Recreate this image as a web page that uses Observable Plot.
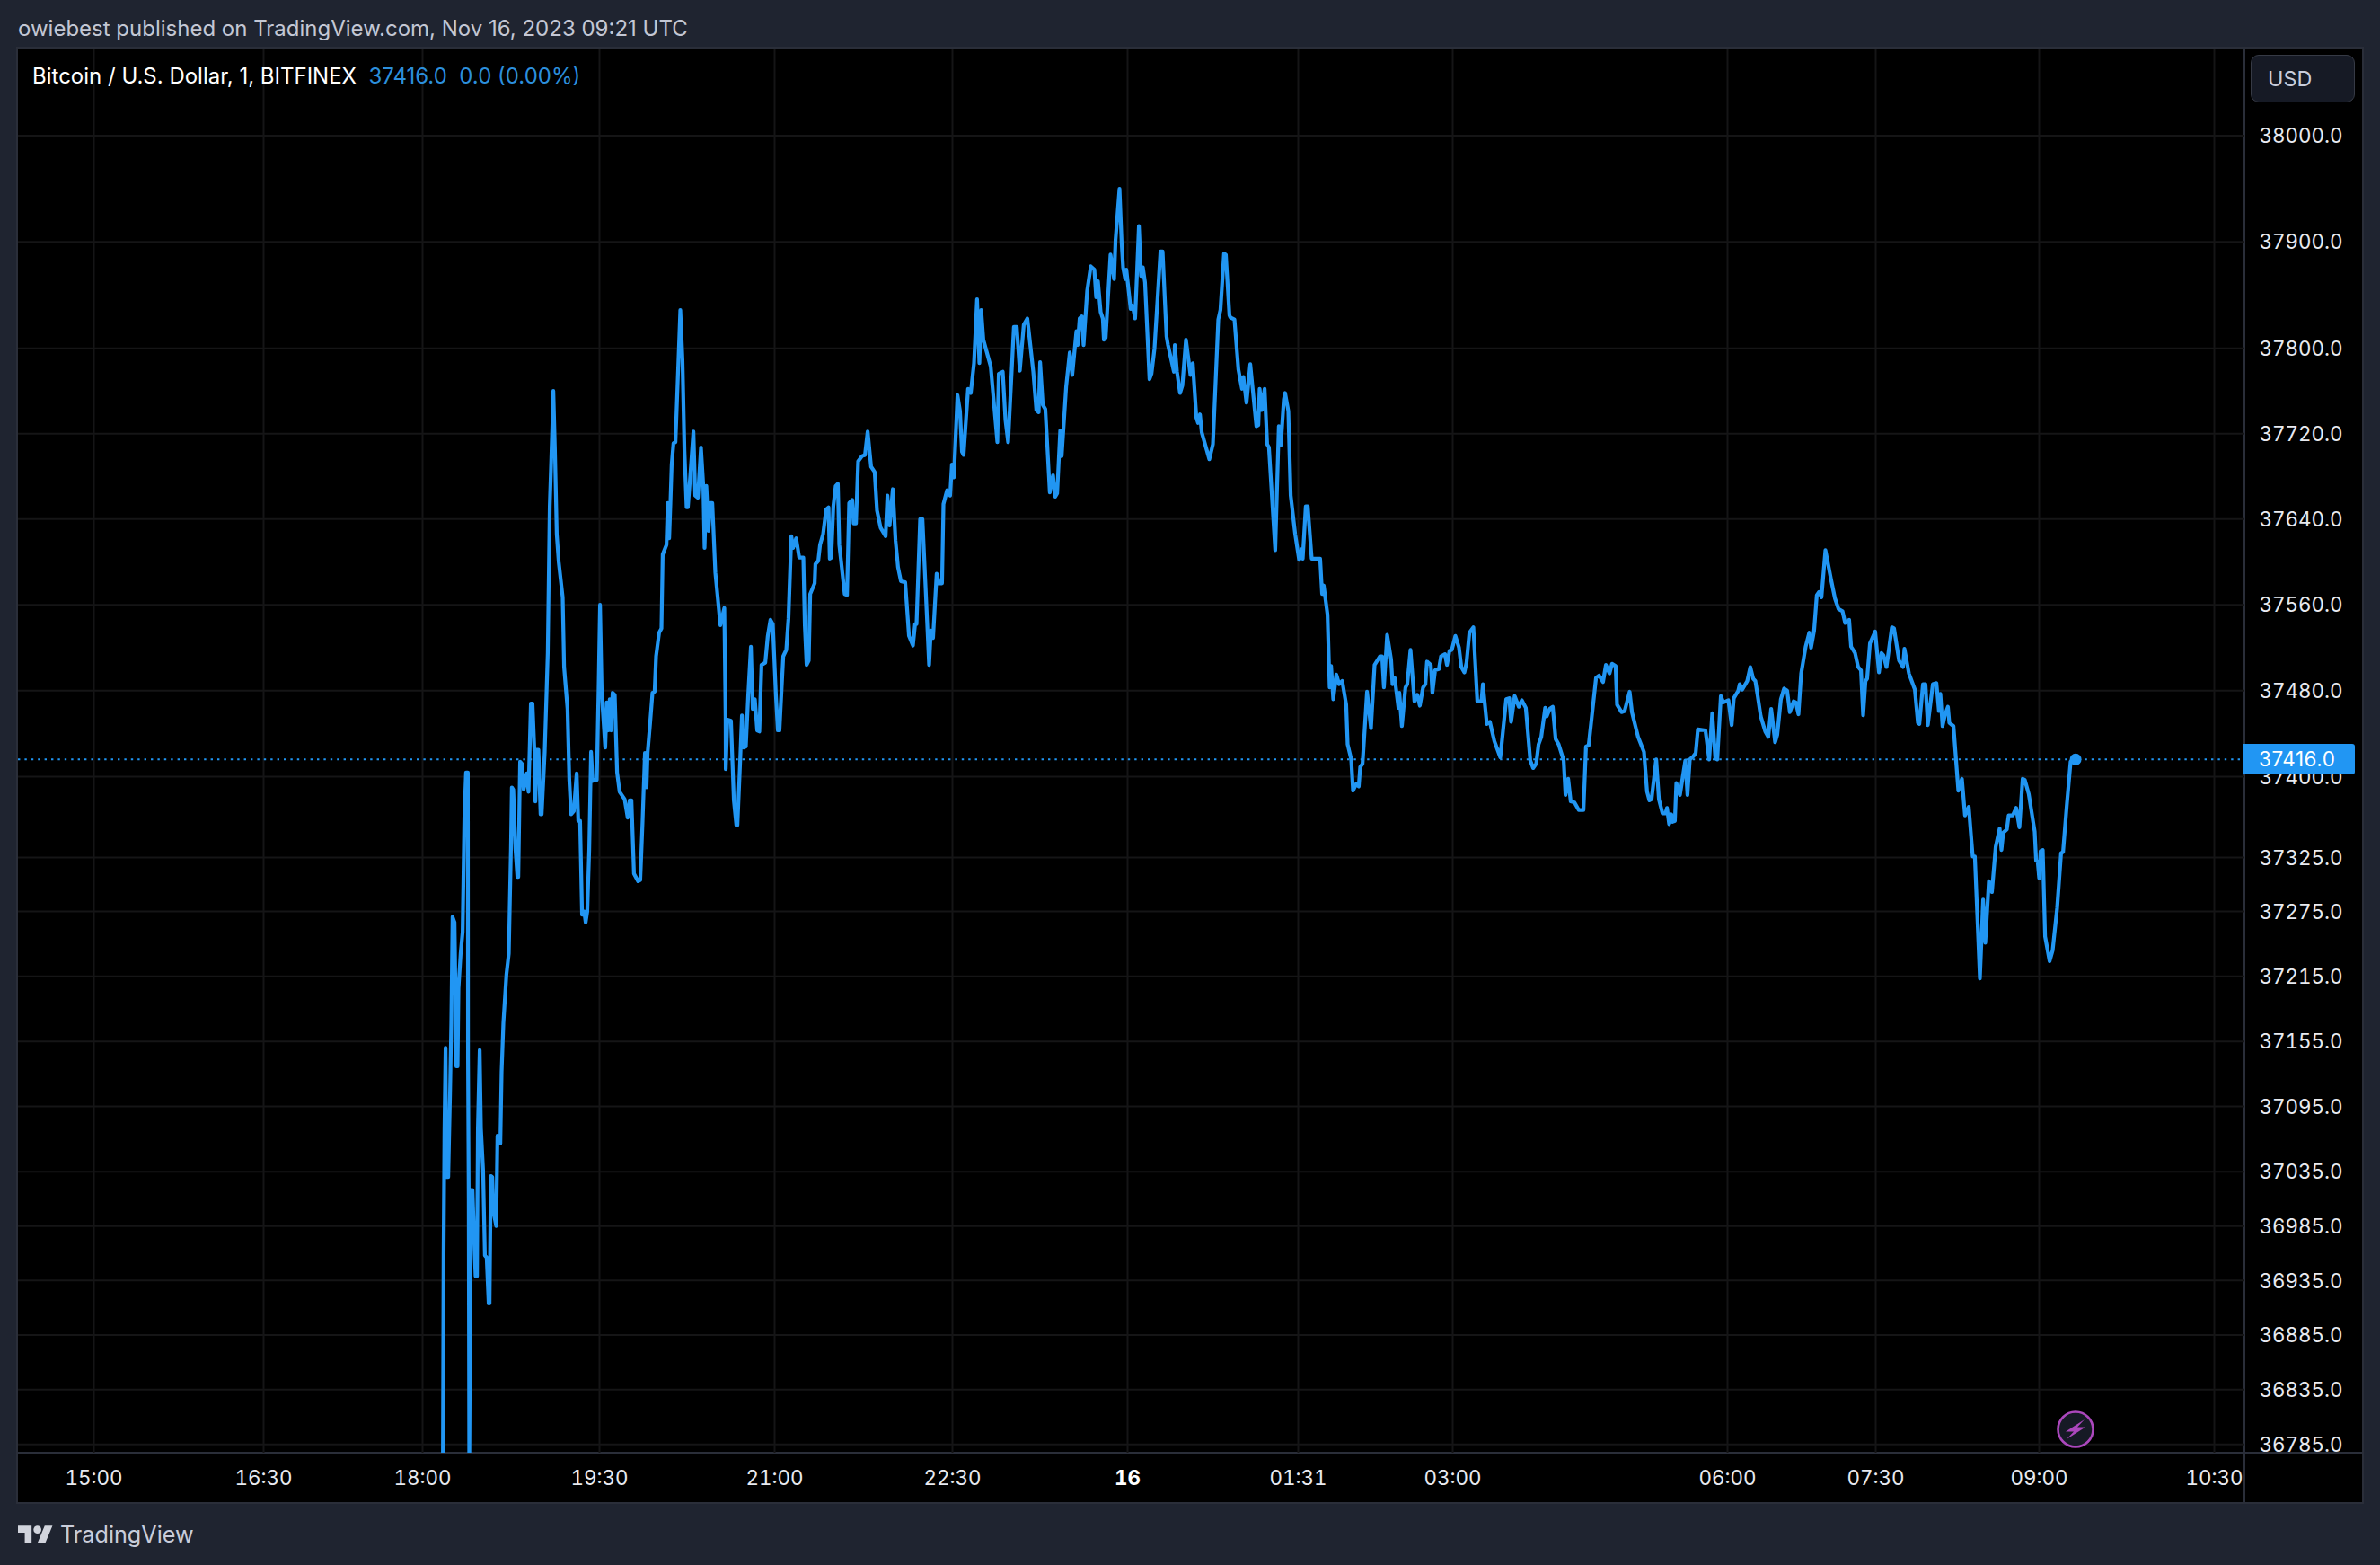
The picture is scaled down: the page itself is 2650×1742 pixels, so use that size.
<!DOCTYPE html>
<html>
<head>
<meta charset="utf-8">
<script src="https://cdn.jsdelivr.net/npm/d3@7"></script>
<script src="https://cdn.jsdelivr.net/npm/@observablehq/plot@0.6"></script>
<style>
  html, body { margin: 0; padding: 0; background: #1f2430; }
  body { width: 2650px; height: 1742px; position: relative; overflow: hidden; font-family: Inter, "Noto Sans", sans-serif; }
  .abs { position: absolute; white-space: pre; }
  #title { left: 20px; top: 17px; font-size: 24px; line-height: 30px; color: #c3c7d4; }
  #pane { left: 20px; top: 54px; width: 2610px; height: 1618px; background: #000; box-shadow: 0 0 0 2px #2a2e39; }
  #vsep { left: 2498px; top: 54px; width: 2px; height: 1618px; background: #2a2e39; }
  #hsep { left: 20px; top: 1616px; width: 2610px; height: 2px; background: #2a2e39; }
  #chart { left: 0; top: 54px; }
  #legend { left: 36px; top: 70px; font-size: 24px; line-height: 30px; color: #fff; }
  #legend span { color: #2c8fdc; }
  #usd { left: 2506px; top: 61px; width: 114px; height: 51px; background: #161a25; border: 1px solid #363a45; border-radius: 9px; color: #c9cddb; font-size: 23.4px; line-height: 51px; text-indent: 18px; }
  #last { left: 2498px; top: 828px; width: 124px; height: 34px; background: #2196f3; border-radius: 0 3px 3px 0; color: #fff; font-size: 22.4px; line-height: 34px; text-indent: 17px; letter-spacing: .55px; }
  #brand { left: 67px; top: 1692px; font-size: 25.2px; line-height: 32px; color: #c9cddb; }
  #logo { left: 20px; top: 1696px; }
  #bolt { left: 2288px; top: 1568px; }
</style>
</head>
<body>
<div class="abs" id="title">owiebest published on TradingView.com, Nov 16, 2023 09:21 UTC</div>
<div class="abs" id="pane"></div>
<div class="abs" id="vsep"></div>
<div class="abs" id="hsep"></div>
<div class="abs" id="chart"></div>
<div class="abs" id="legend">Bitcoin / U.S. Dollar, 1, BITFINEX  <span>37416.0  0.0 (0.00%)</span></div>
<div class="abs" id="usd">USD</div>
<div class="abs" id="last">37416.0</div>
<svg class="abs" id="bolt" width="46" height="46" viewBox="0 0 46 46"><circle cx="23" cy="23" r="19.5" fill="#161a25" stroke="#ab47bc" stroke-width="2.6"/><path d="M33 12 L12 25.5 L21 25.5 L13 34 L34 20.5 L25 20.5 Z" fill="#ab47bc"/></svg>
<svg class="abs" id="logo" width="39" height="22" viewBox="0 0 36 20"><path d="M14 20H7V9H0V2h14v18zM28 20h-8l7.5-18h8L28 20z" fill="#d1d4dc"/><circle cx="20" cy="6" r="4" fill="#d1d4dc"/></svg>
<div class="abs" id="brand">TradingView</div>
<script>
// Bar position on the index axis (bars are counted from the 15:00 tick, sessions with missing bars compress time)
const bars = [
194.3,194.7,195.2,195.8,196.2,197.3,198.3,199,199.7,200.8,
201.3,201.8,202.5,203,204.2,205.3,206.3,207.2,208.2,208.3,
208.7,209,209.8,210.8,212,212.5,213.3,213.8,214.8,215.5,
216.7,217.7,218.7,219.8,220.3,221,221.8,222.5,224,224.7,
226.3,227,228,229.7,231,232.2,232.7,233.5,234.7,235.8,
236.3,237.3,238.3,239.3,241,242,243.3,244.2,245.3,245.8,
246.5,247.5,248.7,249.3,251,252.7,253.8,255.2,255.8,256.7,
257.7,258.8,261,261.8,263.7,264.7,265.7,267.2,268.8,269.7,
270.7,271.8,273,273.8,274.7,275.8,276.8,277.7,280,281,
281.8,282.7,283.3,284.7,285.5,286.3,287.2,288,288.8,290,
291.3,292.7,295.5,297.2,298.3,299.3,300.7,303,304.2,305.5,
306.8,307.7,308.3,309.7,311,312.2,313,314.7,316,316.7,
318.8,319.5,320.3,321,321.7,322.7,323.8,326.5,327.7,328.8,
330,330.7,332.2,333.8,334.8,336.3,338,339.3,340,341,
342.2,343,344.3,346,348.8,351,351.7,351.8,352.7,354.7,
356.3,357.7,358.3,359.7,360.8,361.7,363,364.3,365.8,366.8,
368,369.3,370.5,371.7,373.8,375.2,376.7,378,379.7,380.8,
381.7,383.8,385.5,386.7,388.3,389.3,391,392.7,395,395.8,
396.8,398,398.8,401.3,401.7,403.3,404.3,406,407.7,409,
409.7,410.5,411.7,413,414.2,415,418,419.3,420.5,422.2,
423,424.3,425.5,427.7,429.3,430.8,432.7,434.7,436,438,
440.8,441.8,443,444.8,446.3,447.7,449.3,451.7,453.8,456,
457.2,458,460,461.3,465,466,467.2,469.2,470.5,472.2,
473,475,476.7,477.7,478.8,480.8,482.2,483.3,484.2,486.7,
488.2,490,491.7,493,494,495.2,499.3,503,503.8,506,
507.5,509,512.2,513.8,515.5,517.7,519.7,523,524.7,526,
526.8,528.3,529.7,532.2,534,535.2,536.3,538,538.8,541.3,
543.3,544.7,547,547.7,548.8,550,551,553,555,557,
558,559,560.5,561.7,562.3,563.3,566,568,568.8,571,
572.2,573,574.2,574.8,577.2,578.3,579.7,581.8,583,584,
585.2,587.7,588.8,590.5,593.8,595,597.2,598,601.3,601.8,
603,604.7,606,608,610.5,611.8,613.8,614.7,615.8,616.8,
621,623,626,627.2,629.2,630.2,632.2,632.7,635,637.2,
639.2,640,641.7,643.8,647.2,648.3,649,650.2,651.8,653.2,
654.2,657.7,659.7,660.8,662.5,663.2,665,666.3,668.8,671,
672.5,673,674.7,675.8,678,682.7,683.8,684.7,686.8,688,
688.8,690,691.7,693.3,695,697.2,698,700,701,702.7,
704.2,705,706.3,708.8,711,713,716,717.2,718.2,720,
722.2,723,724.2,726.3,726.8,728.2,730.2,731.2,733,735.2,
736.8,738.2,740,741.3,742.2,744.3,745.2,746.7,748.8,750,
752.2,753.3,754.7,756,758,760,761.3,763,764.2,765.8,
768,770.2,772.5,773.3,775.5,777.2,779.7,783,786.3,788,
789,791,793.3,795,797.2,799.7,801.3,803,804.3,805.8,
808,808.8,810.5,812.2,813.8,815.5,818.3,819.3,820.8,822.2,
824.3,826.7,829.3,830.7,832.2,836.3,838,840.2,841.8,843.8,
845.2,847.2,848,850.5,852.2,855,856.3,859.7,863,864.7,
866,867.2,869.8,871.3,873.3,875,875.8,877,878.2,878.8,
880.2,881,883,886,887.2,888.5,890.5,891.8,893,897.2,
899.3,901,902.7,903.8,905.8,907.2,910,911.8,913,915.5,
916.3,917.7,920.5,922.2,923.8,925,926.3,928,930.5,932.2,
933.8,936,937.2,939.2,941,942.7,944.2,946.3,947.5,949,
950.5,953,955,956,957.7,959.2,960.5,961.8,964,967.2,
969.3,971.3,973.5,975,977.2,978.3,980.5,982.2,983.8,985,
986.3,987.2,988.8,991.7,993.8,995.2,996.3,998,1001,1002.2,
1005,1007.2,1008,1010.5,1013.8,1015.5,1016.3,1018.3,1019.7,1021,
1023.8,1025.8,1027.2,1028,1029.2,1030.5,1032.2,1033,1035.3,1038,
1040,1041.7,1043.8,1046,1047.2,1050,1051.8,1053,1055,1056.7,
1058.8,1061,1062,1063,1065,1066,1068.3,1070.2,1072,1073.8,
1075,1077.2,1080.5,1081.3,1082.2,1083,1083.8,1085,1086.3,1088.8,
1090.5,1093,1095.2,1096.3,1098.3,1100.5,1103.3
];
// Close price of each bar
const prices = [
36760,36959,37075,37149,37030,37030,37107,37172,37270,37265,
37204,37132,37132,37204,37236,37256,37365,37404,37404,37139,
37010,36760,37018,37018,36959,36939,36939,37075,37147,37075,
37036,36958,36956,36914,36914,37031,37030,36998,36985,37068,
37061,37127,37172,37217,37236,37333,37390,37388,37333,37307,
37307,37414,37412,37388,37403,37386,37468,37468,37423,37377,
37425,37425,37365,37365,37423,37515,37652,37724,37760,37704,
37626,37600,37567,37502,37463,37397,37365,37368,37403,37359,
37359,37272,37275,37265,37275,37333,37423,37396,37397,37482,
37560,37482,37463,37427,37469,37443,37472,37443,37478,37476,
37404,37386,37379,37362,37378,37378,37310,37303,37304,37359,
37422,37390,37422,37450,37478,37479,37512,37534,37538,37607,
37616,37655,37622,37655,37691,37711,37712,37836,37789,37704,
37651,37651,37684,37722,37662,37660,37707,37671,37613,37671,
37629,37655,37655,37590,37541,37557,37456,37407,37453,37452,
37378,37355,37355,37410,37457,37427,37428,37476,37521,37463,
37472,37443,37442,37504,37506,37531,37546,37542,37476,37443,
37443,37512,37518,37547,37624,37613,37622,37604,37604,37541,
37504,37508,37570,37580,37598,37601,37616,37626,37649,37651,
37603,37604,37652,37671,37673,37616,37570,37569,37655,37658,
37636,37636,37694,37699,37700,37722,37689,37684,37648,37632,
37624,37662,37634,37668,37620,37595,37582,37581,37531,37522,
37542,37542,37640,37640,37504,37536,37529,37589,37580,37580,
37654,37667,37662,37691,37679,37756,37741,37703,37700,37762,
37758,37786,37846,37786,37836,37808,37783,37712,37776,37778,
37733,37712,37820,37820,37779,37822,37828,37778,37742,37740,
37787,37747,37743,37665,37681,37661,37664,37723,37699,37764,
37796,37775,37816,37803,37828,37830,37803,37854,37877,37874,
37848,37863,37834,37828,37808,37810,37888,37865,37902,37950,
37899,37876,37865,37874,37837,37840,37828,37915,37868,37876,
37862,37771,37776,37800,37891,37891,37811,37803,37778,37803,
37778,37758,37765,37808,37775,37786,37735,37730,37738,37721,
37696,37710,37827,37836,37889,37888,37831,37829,37827,37780,
37762,37773,37749,37785,37727,37728,37762,37742,37762,37710,
37707,37611,37727,37709,37752,37758,37741,37662,37626,37602,
37612,37603,37652,37652,37603,37603,37570,37578,37551,37483,
37503,37472,37495,37486,37489,37467,37430,37416,37387,37393,
37391,37409,37412,37479,37445,37504,37512,37512,37483,37532,
37509,37486,37492,37464,37478,37447,37483,37486,37518,37470,
37476,37466,37483,37486,37507,37504,37478,37499,37500,37512,
37514,37504,37517,37518,37531,37520,37502,37497,37506,37534,
37539,37470,37470,37486,37449,37451,37433,37418,37472,37473,
37451,37475,37465,37471,37464,37415,37408,37412,37430,37437,
37464,37456,37463,37465,37435,37430,37415,37383,37398,37377,
37376,37369,37369,37428,37429,37492,37494,37488,37504,37496,
37505,37503,37467,37460,37461,37479,37460,37437,37423,37386,
37378,37379,37416,37379,37366,37366,37371,37356,37365,37358,
37359,37394,37383,37415,37383,37416,37419,37422,37444,37443,
37416,37459,37417,37416,37475,37469,37471,37448,37473,37480,
37486,37481,37489,37502,37491,37489,37475,37456,37442,37437,
37463,37432,37439,37472,37482,37480,37460,37470,37469,37458,
37496,37521,37534,37520,37536,37569,37572,37567,37611,37583,
37566,37556,37554,37543,37546,37521,37515,37502,37499,37457,
37489,37491,37524,37535,37497,37515,37513,37502,37539,37538,
37508,37502,37519,37496,37481,37450,37449,37486,37486,37448,
37486,37487,37461,37477,37447,37457,37465,37450,37447,37387,
37398,37364,37372,37326,37326,37213,37286,37246,37303,37293,
37335,37352,37332,37348,37351,37364,37364,37371,37353,37398,
37397,37384,37349,37322,37321,37306,37331,37332,37252,37229,
37239,37278,37329,37330,37372,37414,37416
];
const lastPrice = 37416;
const lastBar = 1103.3;

const priceTicks = [38000,37900,37800,37720,37640,37560,37480,37400,37325,37275,37215,37155,37095,37035,36985,36935,36885,36835,36785];
const timeTicks = [0,94.5,183,281.5,379,478,670.5,756.5,909.5,992,1083,1180.5];
const timeLabels = ["15:00","16:30","18:00","19:30","21:00","22:30","01:31","03:00","06:00","07:30","09:00","10:30"];
const dayTick = [575.5];
const dayLabel = ["16"];

const gridColor = "#151516";
const lineColor = "#2196f3";
const font = "Inter, 'Noto Sans', sans-serif";

const plot = Plot.plot({
  width: 2650,
  height: 1618,
  marginLeft: 20,
  marginRight: 151,
  marginTop: 0,
  marginBottom: 55,
  style: { background: "transparent", fontFamily: font, fontSize: "22.4px", color: "#e8eaf0" },
  x: { type: "linear", domain: [-42, 1197.5] },
  y: { type: "log", domain: [36777, 38082] },
  marks: [
    Plot.gridX([...timeTicks, ...dayTick], { x: d => d, stroke: gridColor, strokeOpacity: 1, strokeWidth: 2 }),
    Plot.gridY(priceTicks, { y: d => d, stroke: gridColor, strokeOpacity: 1, strokeWidth: 2 }),
    Plot.axisY({
      anchor: "right", ticks: priceTicks, tickFormat: d3.format(".1f"), tickSize: 0, tickPadding: 16, dy: 1,
      label: null, fontSize: 22.4, fill: "#e8eaf0", letterSpacing: ".55px"
    }),
    Plot.axisX({
      ticks: timeTicks, tickFormat: d => timeLabels[timeTicks.indexOf(d)], tickSize: 0, tickPadding: 20,
      label: null, fontSize: 22.4, fill: "#e8eaf0", letterSpacing: ".55px"
    }),
    Plot.axisX({
      ticks: dayTick, tickFormat: d => dayLabel[dayTick.indexOf(d)], tickSize: 0, tickPadding: 20,
      label: null, fontSize: 22.4, fontWeight: "bold", fill: "#ffffff"
    }),
    Plot.ruleY([lastPrice], { stroke: lineColor, strokeWidth: 2, strokeDasharray: "2.4 5" }),
    Plot.lineY(prices, { x: bars, y: prices, stroke: lineColor, strokeWidth: 4.2, strokeLinejoin: "round", strokeLinecap: "round", clip: true }),
    Plot.dot([lastPrice], { x: [lastBar], y: d => d, r: 6.5, fill: lineColor, stroke: "none" })
  ]
});
document.getElementById("chart").appendChild(plot);
</script>
</body>
</html>
